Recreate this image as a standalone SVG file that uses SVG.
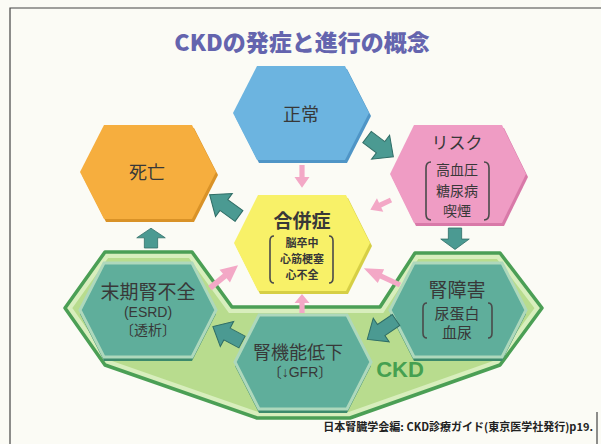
<svg xmlns="http://www.w3.org/2000/svg" xmlns:xlink="http://www.w3.org/1999/xlink" width="601" height="444" viewBox="0 0 601 444">
<defs>
<style>
.t{font-family:"Liberation Sans","Noto Sans CJK JP",sans-serif;fill:#383838;text-anchor:middle}
.j{font-family:"Noto Sans CJK JP",sans-serif;fill:#383838;text-anchor:middle}
.br{fill:none;stroke:#4a4a4a;stroke-width:1.6}
.ta{fill:#4b9a92;stroke:#2f6d66;stroke-width:1}
.pa{fill:#f3a8c6}
</style>
<path id="hex" d="M-44,-47 H44 L68,0 L44,47 H-44 L-68,0 Z"/>
<path id="tarr" d="M0,-7 H17 V-15 L33,0 L17,15 V7 H0 Z"/>
<path id="parr" d="M0,-2.6 H10 V-7.5 L19,0 L10,7.5 V2.6 H0 Z"/>
<clipPath id="ckdclip"><path d="M105,252 H192 L232,307 H380 L415,253 H500 L542,308 L500,365 L350,418 H257 L105,365 L65,308 Z"/></clipPath>
</defs>
<rect width="601" height="444" fill="#fbfbf5"/>
<path d="M10,444 V8 H601 M597,412 V444" fill="none" stroke="#444" stroke-width="1.2"/>
<text x="302" y="51" style="font-family:'Noto Sans CJK JP',sans-serif;font-weight:900;font-size:23px;fill:#6464ae;text-anchor:middle">CKDの発症と進行の概念</text>

<g id="ckd-region">
<path d="M105,252 H192 L232,307 H380 L415,253 H500 L542,308 L500,365 L350,418 H257 L105,365 L65,308 Z" fill="#b8dc8e"/>
<path d="M105,252 H192 L232,307 H380 L415,253 H500 L542,308 L500,365 L350,418 H257 L105,365 L65,308 Z" fill="none" stroke="#d8eebd" stroke-width="12" clip-path="url(#ckdclip)"/>
<path d="M105,252 H192 L232,307 H380 L415,253 H500 L542,308 L500,365 L350,418 H257 L105,365 L65,308 Z" fill="none" stroke="#4b9f55" stroke-width="3.5" stroke-linejoin="round"/>
<text x="400" y="377" style="font-family:'Liberation Sans',sans-serif;font-weight:bold;font-size:22px;fill:#45a050;text-anchor:middle">CKD</text>
</g>

<g id="normal">
<use xlink:href="#hex" transform="translate(303,116)" fill="#4f95c6"/>
<use xlink:href="#hex" transform="translate(301,113)" fill="#6cb4e0"/>
<text class="j" x="301" y="121" font-size="18">正常</text>
</g>

<g id="risk">
<use xlink:href="#hex" transform="translate(460,177) scale(1,1.04)" fill="#d879a8"/>
<use xlink:href="#hex" transform="translate(458,174) scale(1,1.04)" fill="#ef9cc4"/>
<text class="j" x="457" y="149" font-size="17">リスク</text>
<text class="j" font-size="14"><tspan x="457" y="175">高血圧</tspan><tspan x="457" y="195.5">糖尿病</tspan><tspan x="457" y="216">喫煙</tspan></text>
<path class="br" d="M431,162 Q426,162 426,168 V214 Q426,220 431,220"/>
<path class="br" d="M484,162 Q489,162 489,168 V214 Q489,220 484,220"/>
</g>

<g id="death">
<use xlink:href="#hex" transform="translate(150,175)" fill="#d99227"/>
<use xlink:href="#hex" transform="translate(148,172)" fill="#f6ae3e"/>
<text class="j" x="147" y="179" font-size="18">死亡</text>
</g>

<g id="complication">
<use xlink:href="#hex" transform="translate(304,246) scale(1,1.02)" fill="#d6cf45"/>
<use xlink:href="#hex" transform="translate(302,243) scale(1,1.02)" fill="#f8f168"/>
<text class="j" x="302" y="228" font-size="19" font-weight="bold">合併症</text>
<text class="j" font-weight="bold" font-size="11"><tspan x="302" y="246.5">脳卒中</tspan><tspan x="302" y="262.5">心筋梗塞</tspan><tspan x="302" y="278.5">心不全</tspan></text>
<path class="br" d="M274,236 Q270,236 270,241 V278 Q270,283 274,283"/>
<path class="br" d="M329,236 Q333,236 333,241 V278 Q333,283 329,283"/>
</g>

<g id="esrd">
<use xlink:href="#hex" transform="translate(148,314)" fill="#3c8a6c"/>
<use xlink:href="#hex" transform="translate(148,310)" fill="#5fae9b" stroke="#aed8bc" stroke-width="3"/>
<text class="j" x="148" y="299" font-size="19">末期腎不全</text>
<text class="t" x="148" y="317" font-size="14">(ESRD)</text>
<text class="j" x="148" y="335" font-size="14">〔透析〕</text>
</g>

<g id="kidney-damage">
<use xlink:href="#hex" transform="translate(458,314)" fill="#3c8a6c"/>
<use xlink:href="#hex" transform="translate(458,310)" fill="#5fae9b" stroke="#aed8bc" stroke-width="3"/>
<text class="j" x="457" y="297" font-size="19">腎障害</text>
<text class="j" font-size="15"><tspan x="457" y="318.5">尿蛋白</tspan><tspan x="457" y="337.5">血尿</tspan></text>
<path class="br" d="M427,303 Q423,303 423,308 V333 Q423,338 427,338"/>
<path class="br" d="M488,303 Q492,303 492,308 V333 Q492,338 488,338"/>
</g>

<g id="gfr-decline">
<use xlink:href="#hex" transform="translate(303,366)" fill="#3c8a6c"/>
<use xlink:href="#hex" transform="translate(303,362)" fill="#5fae9b" stroke="#aed8bc" stroke-width="3"/>
<text class="j" x="298" y="358.5" font-size="18">腎機能低下</text>
<text class="t" x="300" y="377" font-size="14">〔↓GFR〕</text>
</g>

<g id="connectors">
<use xlink:href="#tarr" class="ta" transform="translate(367,137) rotate(37)"/>
<use xlink:href="#tarr" class="ta" transform="translate(455,228) rotate(90) scale(0.65,0.95)"/>
<use xlink:href="#tarr" class="ta" transform="translate(396,320) rotate(146) scale(1.05,0.95)"/>
<use xlink:href="#tarr" class="ta" transform="translate(242,342) rotate(208) scale(1,0.95)"/>
<use xlink:href="#tarr" class="ta" transform="translate(151,248) rotate(-90) scale(0.6,0.95)"/>
<use xlink:href="#tarr" class="ta" transform="translate(239,216) rotate(216) scale(1.1,0.95)"/>
<use xlink:href="#parr" class="pa" transform="translate(302,165) rotate(90) scale(1.2,1)"/>
<use xlink:href="#parr" class="pa" transform="translate(391,200) rotate(155) scale(1.2,1)"/>
<use xlink:href="#parr" class="pa" transform="translate(400,285) rotate(205) scale(2.1,1)"/>
<use xlink:href="#parr" class="pa" transform="translate(302,313) rotate(-90) scale(1,1)"/>
<use xlink:href="#parr" class="pa" transform="translate(210,288) rotate(-39) scale(1.9,1.1)"/>
</g>

<text x="593" y="431" style="font-family:'Noto Sans CJK JP',sans-serif;font-weight:bold;font-size:11px;fill:#222;text-anchor:end">日本腎臓学会編: CKD診療ガイド(東京医学社発行)p19.</text>
</svg>
